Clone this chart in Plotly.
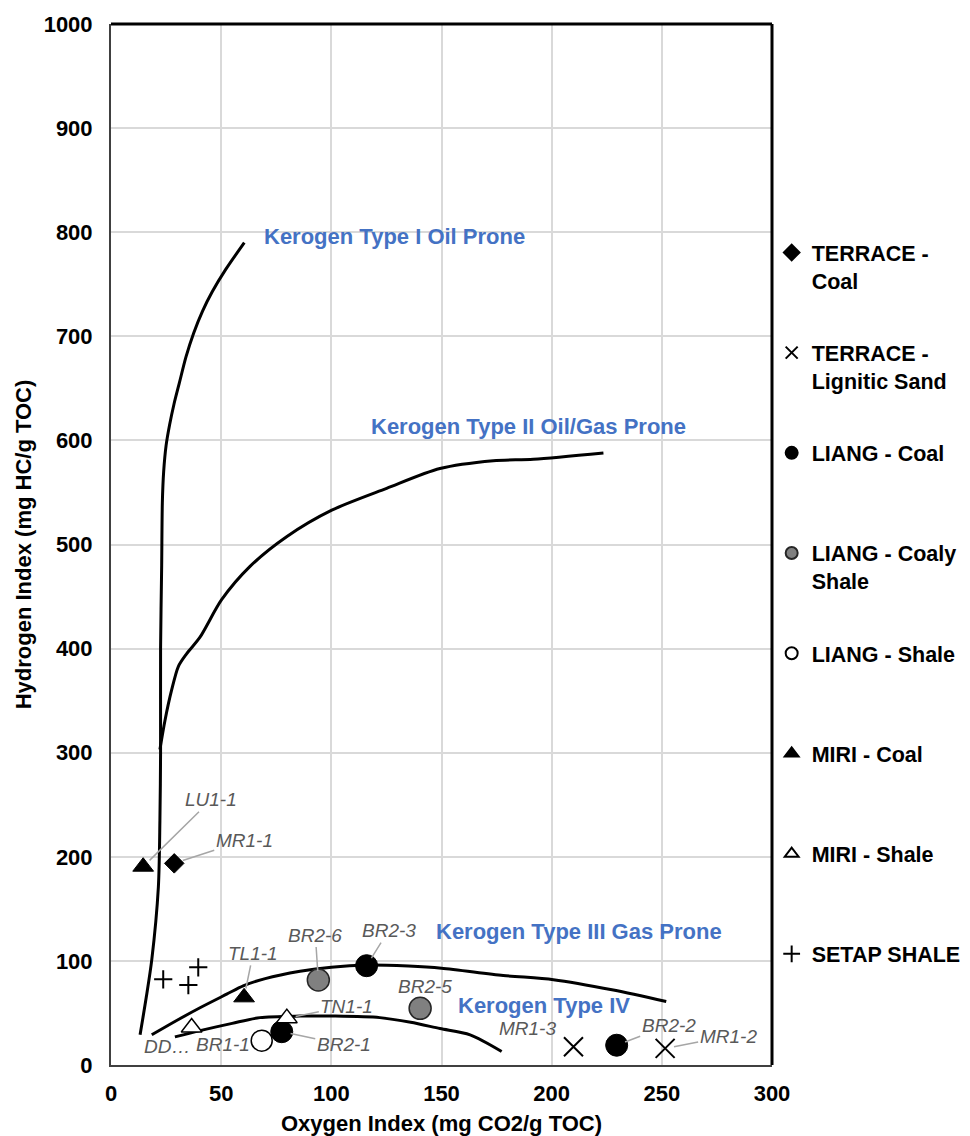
import plotly.graph_objects as go

# ---------------- data ----------------
# Kerogen type boundary curves (Oxygen Index, Hydrogen Index)
type1_x = [13.2, 16, 18.5, 21.5, 22.2, 22.5, 22.5, 23, 23.3, 23.9, 25.0, 26.6, 28.6, 31.0, 34.0, 37.5, 41.5, 46, 52, 60.5]
type1_y = [29, 65, 101, 171, 235, 300, 400, 480, 540, 570, 595, 615, 635, 655, 680, 703, 724, 743, 764, 790]

type2_x = [22.2, 24.5, 27.5, 30.6, 34.3, 40.4, 50.2, 63.1, 79.7, 100.2, 125.1, 149.3, 173.5, 191.7, 223.5]
type2_y = [303, 331, 360, 383, 395, 411, 447, 479, 507.5, 533, 554, 573, 580.5, 582, 588]

type3_x = [18.5, 30, 40.4, 52.5, 60, 70, 85.8, 100, 116, 135, 150, 178, 200.8, 228, 252]
type3_y = [29, 43, 55, 68, 76, 83, 90, 94, 96, 95, 93, 86, 82, 72, 61]

type4_x = [29, 40.4, 55, 67.6, 85.8, 101, 122, 136, 149.3, 163, 177.3]
type4_y = [27, 33, 40, 45.5, 47, 47, 45.5, 41, 35, 29, 13]

# Samples by series
terrace_coal_x = [28.7]
terrace_coal_y = [193.7]
terrace_coal_lbl = ["MR1-1"]

terrace_sand_x = [209.9, 251.5]
terrace_sand_y = [17.6, 16]
terrace_sand_lbl = ["MR1-3", "MR1-2"]

liang_coal_x = [116, 77.5, 229.5]
liang_coal_y = [95.4, 32, 19]
liang_coal_lbl = ["BR2-3", "BR2-1", "BR2-2"]

liang_coaly_x = [94.1, 140.3]
liang_coaly_y = [81.6, 54.4]
liang_coaly_lbl = ["BR2-6", "BR2-5"]

liang_shale_x = [68.4]
liang_shale_y = [23.4]
liang_shale_lbl = ["BR1-1"]

miri_coal_x = [14.6, 60.4]
miri_coal_y = [190.5, 65]
miri_coal_lbl = ["LU1-1", "TL1-1"]

miri_shale_x = [36.6, 79.8]
miri_shale_y = [36, 45]
miri_shale_lbl = ["DD\u2026", "TN1-1"]

setap_x = [23.7, 35.1, 39.6]
setap_y = [82.3, 76.8, 93.8]

# Kerogen zone labels
zone_text = ["Kerogen Type I Oil Prone", "Kerogen Type II Oil/Gas Prone",
             "Kerogen Type III Gas Prone", "Kerogen Type IV"]
zone_x = [68.5, 117.1, 146.6, 156.6]
zone_y = [795.4, 612.9, 127.8, 56.7]

x_ticks = [0, 50, 100, 150, 200, 250, 300]
y_ticks = [0, 100, 200, 300, 400, 500, 600, 700, 800, 900, 1000]

# ---------------- layout helpers (positions / styles) ----------------
FONT = "Liberation Sans, Arial, sans-serif"
BLUE = "#4472C4"
GREY_TXT = "#595959"

# pixel offsets of sample labels from their marker, and whether a leader line is drawn
label_style = {
    "MR1-1": (70, -23, True),
    "MR1-3": (-46, -18, False),
    "MR1-2": (63, -12, True),
    "BR2-3": (22, -35, True),
    "BR2-1": (62, 13, True),
    "BR2-2": (52, -20, True),
    "BR2-6": (-3, -45, True),
    "BR2-5": (5, -22, False),
    "BR1-1": (-39, 4, False),
    "LU1-1": (68, -67, True),
    "TL1-1": (9, -44, True),
    "DD\u2026": (-25, 19, False),
    "TN1-1": (60, -12, True),
}

fig = go.Figure()

for cx, cy in [(type1_x, type1_y), (type2_x, type2_y), (type3_x, type3_y), (type4_x, type4_y)]:
    fig.add_trace(go.Scatter(x=cx, y=cy, mode="lines", showlegend=False, hoverinfo="skip",
                             line=dict(color="black", width=3, shape="spline", smoothing=0.8)))

NB = "\u00a0"
series = [
    ("TERRACE -<br>Coal", terrace_coal_x, terrace_coal_y, terrace_coal_lbl,
     dict(symbol="diamond", size=15, color="black", line=dict(color="black", width=1))),
    ("TERRACE -<br>Lignitic Sand", terrace_sand_x, terrace_sand_y, terrace_sand_lbl,
     dict(symbol="x-thin-open", size=19, color="black", line=dict(color="black", width=2))),
    ("LIANG - Coal<br>" + NB, liang_coal_x, liang_coal_y, liang_coal_lbl,
     dict(symbol="circle", size=22, color="black", line=dict(color="black", width=1))),
    ("LIANG - Coaly<br>Shale", liang_coaly_x, liang_coaly_y, liang_coaly_lbl,
     dict(symbol="circle", size=22, color="#808080", line=dict(color="#262626", width=1.5))),
    ("LIANG - Shale<br>" + NB, liang_shale_x, liang_shale_y, liang_shale_lbl,
     dict(symbol="circle", size=21, color="white", line=dict(color="black", width=1.5))),
    ("MIRI - Coal<br>" + NB, miri_coal_x, miri_coal_y, miri_coal_lbl,
     dict(symbol="triangle-up", size=18, color="black", line=dict(color="black", width=1))),
    ("MIRI - Shale<br>" + NB, miri_shale_x, miri_shale_y, miri_shale_lbl,
     dict(symbol="triangle-up", size=18, color="white", line=dict(color="black", width=1.5))),
    ("SETAP SHALE<br>" + NB, setap_x, setap_y, None,
     dict(symbol="cross-thin-open", size=13, color="black", line=dict(color="black", width=2))),
]

annotations = []
for i, (name, sx, sy, lbls, mk) in enumerate(series):
    fig.add_trace(go.Scatter(x=sx, y=sy, mode="markers", name=name, legendgroup="g%d" % i,
                             marker=mk, hoverinfo="x+y"))
    if lbls:
        for xv, yv, t in zip(sx, sy, lbls):
            dx, dy, arrow = label_style[t]
            a = dict(x=xv, y=yv, xref="x", yref="y", text=t,
                     font=dict(family=FONT, size=19, color=GREY_TXT, style="italic"))
            if arrow:
                a.update(showarrow=True, ax=dx, ay=dy, arrowhead=0, arrowwidth=1.5,
                         arrowcolor="#a6a6a6", standoff=9)
            else:
                a.update(showarrow=False, xshift=dx, yshift=-dy)
            annotations.append(a)

for t, xv, yv in zip(zone_text, zone_x, zone_y):
    annotations.append(dict(x=xv, y=yv, xref="x", yref="y", text="<b>%s</b>" % t,
                            showarrow=False, xanchor="left", yanchor="middle",
                            font=dict(family=FONT, size=22, color=BLUE)))

# the page body adds an 8px offset; the figure is sized to fill the rest of the window
fig.update_layout(
    width=962, height=1128,
    margin=dict(l=103, r=198, t=16, b=71, autoexpand=False),
    paper_bgcolor="white", plot_bgcolor="white",
    font=dict(family=FONT, size=21, color="black"),
    annotations=annotations,
    showlegend=True,
    legend=dict(x=0.9995, y=0.8002, xanchor="left", yanchor="top",
                traceorder="grouped", tracegroupgap=41.3, itemsizing="constant",
                valign="top", bgcolor="rgba(0,0,0,0)",
                font=dict(family=FONT, size=21.5, color="black", weight="bold")),
    shapes=[
        dict(type="line", xref="paper", yref="paper", x0=0, x1=1, y0=1, y1=1,
             line=dict(color="black", width=3)),
        dict(type="line", xref="paper", yref="paper", x0=1, x1=1, y0=0, y1=1,
             line=dict(color="black", width=3)),
    ],
)

fig.update_xaxes(range=[0, 300], tickvals=x_ticks, ticktext=[str(v) for v in x_ticks],
                 showgrid=True, gridcolor="#d9d9d9", gridwidth=1.5, zeroline=False,
                 showline=True, linecolor="#404040", linewidth=2, ticks="",
                 ticklabelstandoff=8,
                 tickfont=dict(family=FONT, size=22, color="black", weight="bold"),
                 title=dict(text="<b>Oxygen Index (mg CO2/g TOC)</b>", standoff=16,
                            font=dict(family=FONT, size=22, color="black")))
fig.update_yaxes(range=[0, 1000], tickvals=y_ticks, ticktext=[str(v) for v in y_ticks],
                 showgrid=True, gridcolor="#d9d9d9", gridwidth=1.5, zeroline=False,
                 showline=True, linecolor="#404040", linewidth=2, ticks="",
                 ticklabelstandoff=12,
                 tickfont=dict(family=FONT, size=22, color="black", weight="bold"),
                 title=dict(text="<b>Hydrogen Index (mg HC/g TOC)</b>", standoff=6,
                            font=dict(family=FONT, size=22, color="black")))

fig.write_html("out.html")
